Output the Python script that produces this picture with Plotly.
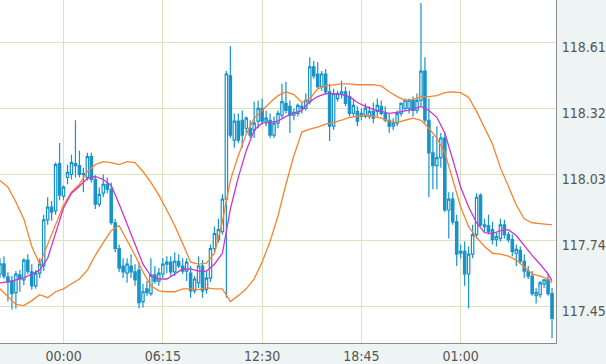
import plotly.graph_objects as go
import pandas as pd

# ---- data (15-minute candles) ----
start_time = "2017-03-05 20:00"
n_candles = 140

open_ = [
    117.593, 117.637, 117.580, 117.562, 117.511, 117.589, 117.567, 117.654, 117.602, 117.541,
    117.597, 117.628, 117.831, 117.887, 117.870, 118.078, 117.935, 118.017, 118.030, 118.078,
    118.069, 118.030, 118.017, 118.108, 118.008, 117.900, 117.948, 117.987, 117.965, 117.818,
    117.705, 117.628, 117.597, 117.628, 117.602, 117.610, 117.472, 117.528, 117.507, 117.589,
    117.562, 117.593, 117.636, 117.645, 117.602, 117.649, 117.628, 117.606, 117.597, 117.519,
    117.554, 117.628, 117.524, 117.575, 117.705, 117.744, 117.779, 117.922, 118.463, 118.181,
    118.264, 118.268, 118.233, 118.233, 118.225, 118.264, 118.320, 118.264, 118.268, 118.203,
    118.255, 118.290, 118.342, 118.329, 118.290, 118.298, 118.320, 118.320, 118.350, 118.502,
    118.471, 118.415, 118.471, 118.393, 118.242, 118.363, 118.381, 118.393, 118.372, 118.298,
    118.307, 118.285, 118.285, 118.285, 118.307, 118.307, 118.329, 118.298, 118.268, 118.242,
    118.255, 118.298, 118.320, 118.320, 118.355, 118.311, 118.355, 118.484, 118.268, 118.125,
    118.069, 118.104, 118.190, 117.874, 117.922, 117.822, 117.684, 117.692, 117.593, 117.680,
    117.766, 117.939, 117.809, 117.805, 117.788, 117.744, 117.749, 117.809, 117.766, 117.744,
    117.684, 117.697, 117.649, 117.606, 117.584, 117.498, 117.502, 117.550, 117.567, 117.507,
]
high_ = [
    117.662, 117.671, 117.601, 117.584, 117.606, 117.610, 117.662, 117.680, 117.636, 117.610,
    117.662, 117.853, 117.930, 117.913, 118.082, 118.168, 117.983, 118.073, 118.117, 118.268,
    118.134, 118.060, 118.125, 118.125, 118.026, 117.974, 118.030, 118.017, 117.995, 117.835,
    117.723, 117.662, 117.662, 117.680, 117.636, 117.645, 117.550, 117.562, 117.662, 117.628,
    117.619, 117.662, 117.671, 117.671, 117.688, 117.680, 117.662, 117.662, 117.628, 117.584,
    117.671, 117.654, 117.606, 117.723, 117.801, 117.835, 117.943, 118.484, 118.593, 118.298,
    118.298, 118.311, 118.285, 118.268, 118.350, 118.355, 118.363, 118.311, 118.298, 118.285,
    118.311, 118.428, 118.437, 118.355, 118.320, 118.342, 118.346, 118.385, 118.545, 118.528,
    118.523, 118.484, 118.493, 118.428, 118.406, 118.398, 118.441, 118.415, 118.398, 118.363,
    118.329, 118.320, 118.342, 118.329, 118.346, 118.363, 118.355, 118.329, 118.298, 118.277,
    118.311, 118.346, 118.363, 118.363, 118.372, 118.385, 118.783, 118.545, 118.363, 118.199,
    118.242, 118.212, 118.212, 117.952, 117.952, 117.853, 117.723, 117.736, 117.714, 117.809,
    117.948, 117.948, 117.835, 117.853, 117.822, 117.775, 117.835, 117.831, 117.779, 117.766,
    117.723, 117.714, 117.680, 117.628, 117.606, 117.532, 117.562, 117.571, 117.593, 117.532,
]
low_ = [
    117.575, 117.571, 117.472, 117.437, 117.441, 117.515, 117.545, 117.593, 117.524, 117.528,
    117.575, 117.606, 117.809, 117.827, 117.853, 117.917, 117.917, 117.987, 118.008, 118.017,
    118.017, 117.952, 118.004, 117.995, 117.878, 117.887, 117.930, 117.948, 117.809, 117.688,
    117.602, 117.575, 117.554, 117.575, 117.541, 117.441, 117.446, 117.498, 117.498, 117.550,
    117.541, 117.575, 117.597, 117.584, 117.584, 117.619, 117.593, 117.562, 117.489, 117.507,
    117.532, 117.489, 117.507, 117.558, 117.688, 117.731, 117.766, 117.489, 118.190, 118.147,
    118.168, 118.147, 118.212, 118.190, 118.190, 118.233, 118.251, 118.242, 118.190, 118.190,
    118.233, 118.277, 118.298, 118.212, 118.268, 118.285, 118.298, 118.311, 118.337, 118.450,
    118.406, 118.398, 118.381, 118.177, 118.225, 118.350, 118.363, 118.329, 118.285, 118.285,
    118.242, 118.268, 118.277, 118.272, 118.255, 118.285, 118.290, 118.259, 118.212, 118.225,
    118.242, 118.285, 118.311, 118.298, 118.285, 118.298, 118.329, 118.255, 117.930, 117.965,
    117.965, 118.060, 117.865, 117.749, 117.809, 117.628, 117.662, 117.541, 117.441, 117.662,
    117.749, 117.801, 117.779, 117.766, 117.723, 117.714, 117.736, 117.749, 117.731, 117.671,
    117.628, 117.636, 117.575, 117.571, 117.498, 117.463, 117.489, 117.532, 117.498, 117.311,
]
close_ = [
    117.637, 117.584, 117.558, 117.507, 117.593, 117.571, 117.654, 117.606, 117.541, 117.597,
    117.636, 117.831, 117.887, 117.865, 118.073, 117.939, 117.974, 118.039, 118.082, 118.069,
    118.030, 118.034, 118.108, 118.008, 117.900, 117.943, 117.987, 117.965, 117.818, 117.705,
    117.619, 117.602, 117.636, 117.602, 117.567, 117.467, 117.515, 117.511, 117.589, 117.562,
    117.597, 117.636, 117.645, 117.602, 117.649, 117.628, 117.606, 117.645, 117.519, 117.571,
    117.628, 117.519, 117.575, 117.705, 117.770, 117.788, 117.922, 118.471, 118.203, 118.264,
    118.181, 118.203, 118.277, 118.203, 118.255, 118.320, 118.264, 118.277, 118.203, 118.255,
    118.298, 118.350, 118.311, 118.290, 118.303, 118.333, 118.329, 118.355, 118.502, 118.463,
    118.415, 118.471, 118.393, 118.242, 118.385, 118.385, 118.393, 118.342, 118.298, 118.333,
    118.264, 118.298, 118.320, 118.307, 118.277, 118.333, 118.298, 118.268, 118.242, 118.255,
    118.298, 118.342, 118.355, 118.355, 118.311, 118.355, 118.484, 118.268, 118.125, 118.069,
    118.104, 118.190, 117.874, 117.922, 117.822, 117.680, 117.692, 117.593, 117.680, 117.766,
    117.930, 117.809, 117.801, 117.779, 117.744, 117.757, 117.809, 117.766, 117.744, 117.692,
    117.701, 117.649, 117.606, 117.584, 117.507, 117.511, 117.554, 117.567, 117.507, 117.398,
]

# indicator lines, read at every second candle plus the last one
line_idx = list(range(0, 140, 2)) + [139]
upper_band = [
    118.004, 117.974, 117.909, 117.835, 117.714, 117.636, 117.723, 117.809, 117.896, 117.952,
    117.987, 118.043, 118.073, 118.086, 118.082, 118.073, 118.086, 118.082, 118.043, 117.995,
    117.939, 117.874, 117.805, 117.727, 117.645, 117.636, 117.641, 117.684, 117.822, 118.004,
    118.112, 118.207, 118.277, 118.311, 118.346, 118.376, 118.393, 118.381, 118.346, 118.363,
    118.406, 118.419, 118.424, 118.428, 118.428, 118.424, 118.424, 118.424, 118.419, 118.393,
    118.372, 118.355, 118.359, 118.372, 118.372, 118.376, 118.389, 118.393, 118.389, 118.368,
    118.307, 118.238, 118.164, 118.060, 117.974, 117.896, 117.835, 117.818, 117.814, 117.809,
    117.809,
]
moving_avg = [
    117.554, 117.558, 117.567, 117.576, 117.593, 117.610, 117.662, 117.775, 117.883, 117.948,
    117.978, 118.013, 118.021, 118.008, 117.982, 117.900, 117.809, 117.727, 117.636, 117.584,
    117.571, 117.571, 117.593, 117.615, 117.615, 117.606, 117.606, 117.636, 117.684, 117.878,
    118.017, 118.134, 118.225, 118.255, 118.259, 118.264, 118.285, 118.298, 118.311, 118.350,
    118.372, 118.385, 118.385, 118.381, 118.372, 118.346, 118.329, 118.316, 118.307, 118.298,
    118.303, 118.311, 118.316, 118.329, 118.311, 118.281, 118.212, 118.095, 117.974, 117.887,
    117.818, 117.775, 117.770, 117.783, 117.788, 117.762, 117.718, 117.675, 117.636, 117.593,
    117.563,
]
lower_band = [
    117.528, 117.493, 117.459, 117.454, 117.476, 117.502, 117.489, 117.515, 117.528, 117.550,
    117.571, 117.610, 117.675, 117.731, 117.783, 117.805, 117.740, 117.675, 117.602, 117.541,
    117.519, 117.515, 117.515, 117.528, 117.528, 117.524, 117.532, 117.528, 117.528, 117.472,
    117.498, 117.528, 117.571, 117.645, 117.736, 117.848, 117.987, 118.112, 118.216, 118.229,
    118.238, 118.251, 118.259, 118.268, 118.281, 118.285, 118.290, 118.285, 118.277, 118.264,
    118.259, 118.268, 118.277, 118.268, 118.233, 118.190, 118.125, 118.008, 117.887, 117.801,
    117.753, 117.714, 117.684, 117.680, 117.671, 117.654, 117.623, 117.593, 117.584, 117.571,
    117.554,
]

y_ticks = [117.45, 117.74, 118.03, 118.32, 118.61]
x_tick_times = ["2017-03-06 00:00", "2017-03-06 06:15", "2017-03-06 12:30",
                "2017-03-06 18:45", "2017-03-07 01:00"]
x_tick_labels = ["00:00", "06:15", "12:30", "18:45", "01:00"]

# ---- styles ----
BLUE = "#1793c8"
ORANGE = "#f7832e"
MAGENTA = "#cc35cc"
GRID = "#d8e4bf"
PANEL = "#eef4f3"
AXIS = "#8c8c8c"
TEXT = "#555555"
FONT = "DejaVu Sans Condensed, DejaVu Sans"

times = pd.date_range(start_time, periods=n_candles, freq="15min")
line_x = [times[i] for i in line_idx]

fig = go.Figure()
fig.add_trace(go.Candlestick(
    x=times, open=open_, high=high_, low=low_, close=close_,
    increasing=dict(line=dict(color=BLUE, width=1.2), fillcolor="white"),
    decreasing=dict(line=dict(color=BLUE, width=1.2), fillcolor=BLUE),
    whiskerwidth=0, showlegend=False, hoverinfo="skip",
))
fig.add_trace(go.Scatter(x=line_x, y=upper_band, mode="lines",
                         line=dict(color=ORANGE, width=1.3), hoverinfo="skip"))
fig.add_trace(go.Scatter(x=line_x, y=lower_band, mode="lines",
                         line=dict(color=ORANGE, width=1.3), hoverinfo="skip"))
fig.add_trace(go.Scatter(x=line_x, y=moving_avg, mode="lines",
                         line=dict(color=MAGENTA, width=1.3), hoverinfo="skip"))

end_time = times[0] + pd.Timedelta(minutes=15 * n_candles)

fig.update_layout(
    width=606, height=364,
    margin=dict(l=0, r=46, t=0, b=16, pad=0),
    paper_bgcolor=PANEL, plot_bgcolor="white",
    showlegend=False,
    boxgap=0.15,
    font=dict(family=FONT, size=14, color=TEXT),
    xaxis=dict(
        type="date", range=[times[0], end_time],
        rangeslider=dict(visible=False),
        tickvals=x_tick_times, ticktext=x_tick_labels,
        showgrid=True, gridcolor=GRID, gridwidth=1.3,
        showline=True, linecolor=AXIS, linewidth=1,
        ticks="", zeroline=False,
        tickfont=dict(family=FONT, size=14, color=TEXT),
    ),
    yaxis=dict(
        side="right", range=[117.290, 118.796],
        tickvals=y_ticks, ticktext=[f"{v:.2f}" for v in y_ticks],
        showgrid=True, gridcolor=GRID, gridwidth=1.3,
        showline=True, linecolor=AXIS, linewidth=1,
        ticks="", zeroline=False, ticklabelshift=5, ticklabelstandoff=2,
        tickfont=dict(family=FONT, size=14, color=TEXT),
    ),
)

fig.write_html("out.html")
